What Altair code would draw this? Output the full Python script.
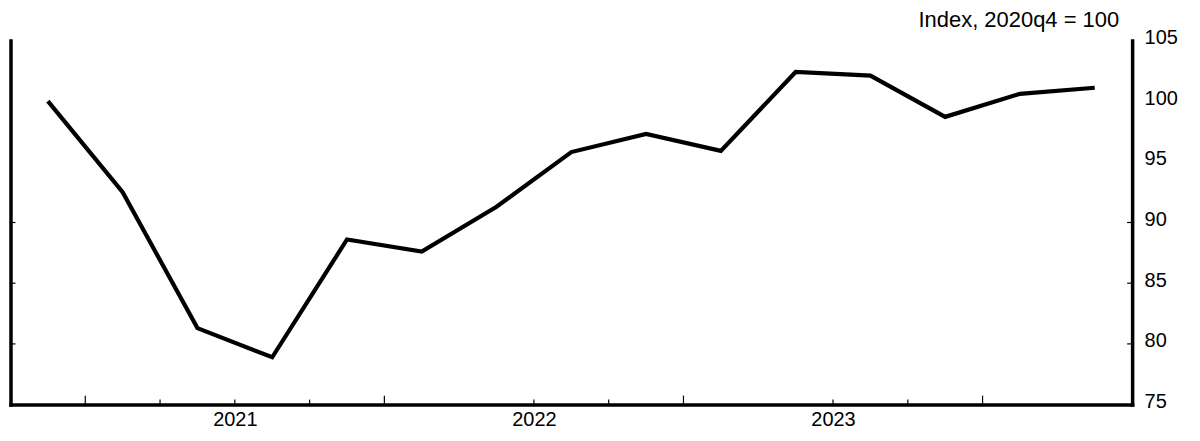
import altair as alt
import pandas as pd

quarters = ["2020q4", "2021q1", "2021q2", "2021q3", "2021q4",
            "2022q1", "2022q2", "2022q3", "2022q4",
            "2023q1", "2023q2", "2023q3", "2023q4",
            "2024q1", "2024q2"]
index_values = [100.0, 92.5, 81.3, 78.9, 88.6,
                87.6, 91.3, 95.8, 97.3,
                95.9, 102.4, 102.1, 98.7,
                100.6, 101.1]

year_label_positions = [2021.5, 2022.5, 2023.5]
year_tick_positions = [2021, 2022, 2023, 2024]
quarter_tick_positions = [2021.25, 2021.5, 2021.75, 2022.5, 2022.75, 2023.5, 2023.75]
y_tick_values = [80, 85, 90]
y_label_values = [75, 80, 85, 90, 95, 100, 105]


def quarter_pos(q):
    y, n = q.split("q")
    return int(y) + (int(n) - 1) / 4 + 0.125


df = pd.DataFrame({"t": [quarter_pos(q) for q in quarters], "v": index_values, "q": quarters})

W, H = 1124, 365
FONT = "Liberation Sans"

xscale = alt.Scale(domain=[2020.75, 2024.5], nice=False, zero=False)
yscale = alt.Scale(domain=[75, 105], nice=False, zero=False)

line = alt.Chart(df).mark_line(color="black", strokeWidth=4.2).encode(
    x=alt.X("t:Q", scale=xscale,
            axis=alt.Axis(orient="bottom", values=year_label_positions,
                          labelExpr="floor(datum.value)",
                          ticks=False, grid=False, domainColor="black", domainWidth=3.5,
                          domainCap="square", labelFontSize=20, labelFont=FONT,
                          labelColor="black", labelPadding=5, title=None, labelFlush=False)),
    y=alt.Y("v:Q", scale=yscale,
            axis=alt.Axis(orient="right", values=y_label_values, ticks=False, grid=False,
                          domainColor="black", domainWidth=3.5, domainCap="square",
                          labelFontSize=20, labelFont=FONT, labelColor="black",
                          labelPadding=12, labelOffset=-3, title=None, format="d")),
)

ytick_df = pd.DataFrame({"y": y_tick_values})
left_ticks = alt.Chart(ytick_df).mark_rule(color="black", strokeWidth=1.2).encode(
    y=alt.Y("y:Q", scale=yscale,
            axis=alt.Axis(orient="left", labels=False, ticks=False, grid=False,
                          domainColor="black", domainWidth=3.5, domainCap="square",
                          title=None)),
    x=alt.value(0), x2=alt.value(5),
)
right_ticks = alt.Chart(ytick_df).mark_rule(color="black", strokeWidth=1.2).encode(
    y=alt.Y("y:Q", scale=yscale, axis=None),
    x=alt.value(W - 5), x2=alt.value(W),
)

year_ticks = alt.Chart(pd.DataFrame({"t": year_tick_positions})).mark_rule(
    color="black", strokeWidth=1.2).encode(
    x=alt.X("t:Q", scale=xscale),
    y=alt.value(H), y2=alt.value(H - 9),
)
quarter_ticks = alt.Chart(pd.DataFrame({"t": quarter_tick_positions})).mark_rule(
    color="black", strokeWidth=1.2).encode(
    x=alt.X("t:Q", scale=xscale),
    y=alt.value(H), y2=alt.value(H - 5),
)

chart = alt.layer(line, left_ticks, right_ticks, year_ticks, quarter_ticks).resolve_axis(
    y="independent"
).properties(
    width=W, height=H,
    autosize=alt.AutoSizeParams(type="none"),
    padding={"left": 2.5, "top": 32, "right": 60, "bottom": 30},
    title=alt.TitleParams("Index, 2020q4 = 100", anchor="end", frame="group",
                          fontSize=22, font=FONT, fontWeight="normal", color="black",
                          dx=-13, dy=9, offset=4),
).configure(background="white").configure_view(strokeWidth=0)

chart.save("out.html", embed_options={"renderer": "svg", "actions": False})
